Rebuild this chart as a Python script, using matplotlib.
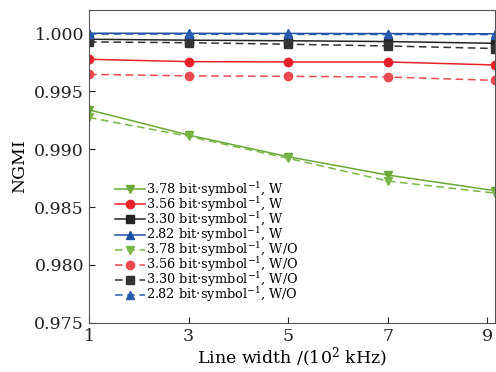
import matplotlib
matplotlib.use("Agg")
import matplotlib.pyplot as plt

plt.rcParams['font.family'] = ['DejaVu Serif']
plt.rcParams['mathtext.fontset'] = 'dejavuserif'

# line width (10^2 kHz); the last points sit on the right frame in the reference
lw = [1, 3, 5, 7, 9.15]
xticks = [1, 3, 5, 7, 9]

# NGMI values
w_378 = [0.99339, 0.99121, 0.98934, 0.98776, 0.98641]
w_356 = [0.99775, 0.99755, 0.99752, 0.99752, 0.99726]
w_330 = [0.99948, 0.99940, 0.99935, 0.99928, 0.99913]
w_282 = [1.00000, 0.99999, 0.99998, 0.99997, 0.99995]
wo_378 = [0.99273, 0.99110, 0.98920, 0.98724, 0.98620]
wo_356 = [0.99645, 0.99632, 0.99628, 0.99622, 0.99593]
wo_330 = [0.99925, 0.99918, 0.99905, 0.99890, 0.99868]
wo_282 = [0.99993, 0.99992, 0.99990, 0.99989, 0.99988]

rates = ["3.78", "3.56", "3.30", "2.82"]
yticks = [0.975, 0.980, 0.985, 0.990, 0.995, 1.000]

green = "#6ca838"
red = "#e62129"
black = "#222222"
blue = "#1c4fa1"

fig = plt.figure(figsize=(4.96, 3.72), dpi=100)
ax = fig.add_axes([0.1794, 0.132, 0.8185, 0.841])

w_sets = [(w_378, green, "v"), (w_356, red, "o"), (w_330, black, "s"), (w_282, blue, "^")]
wo_sets = [(wo_378, "#7ab548", "v"), (wo_356, "#ea4a50", "o"), (wo_330, "#333333", "s"), (wo_282, "#2a5cad", "^")]

for (vals, c, m), r in zip(w_sets, rates):
    ax.plot(lw, vals, color=c, marker=m, ms=6, lw=1.1,
            label=r + r" bit$\cdot$symbol$^{-1}$, W")
for (vals, c, m), r in zip(wo_sets, rates):
    ax.plot(lw, vals, color=c, marker=m, ms=6, lw=1.1, ls=(0, (5, 3)),
            label=r + r" bit$\cdot$symbol$^{-1}$, W/O")

ax.set_xlim(1, 9.15)
ax.set_ylim(0.975, 1.002)
ax.set_xticks(xticks)
ax.set_yticks(yticks)
ax.set_yticklabels([f"{v:.3f}" for v in yticks])
ax.tick_params(direction="in", labelsize=12.5, length=4, colors="#222222")
ax.set_xlabel("Line width /(10$^2$ kHz)", fontsize=12.5, labelpad=1)
ax.set_ylabel("NGMI", fontsize=12.5, labelpad=4)
for s in ax.spines.values():
    s.set_color("#555555")

leg = ax.legend(loc="lower left", bbox_to_anchor=(0.065, 0.06), frameon=False,
                fontsize=9.3, handlelength=2.3, handletextpad=0.1,
                labelspacing=-0.3, borderaxespad=0, borderpad=0)

fig.savefig("out.png", dpi=100)
